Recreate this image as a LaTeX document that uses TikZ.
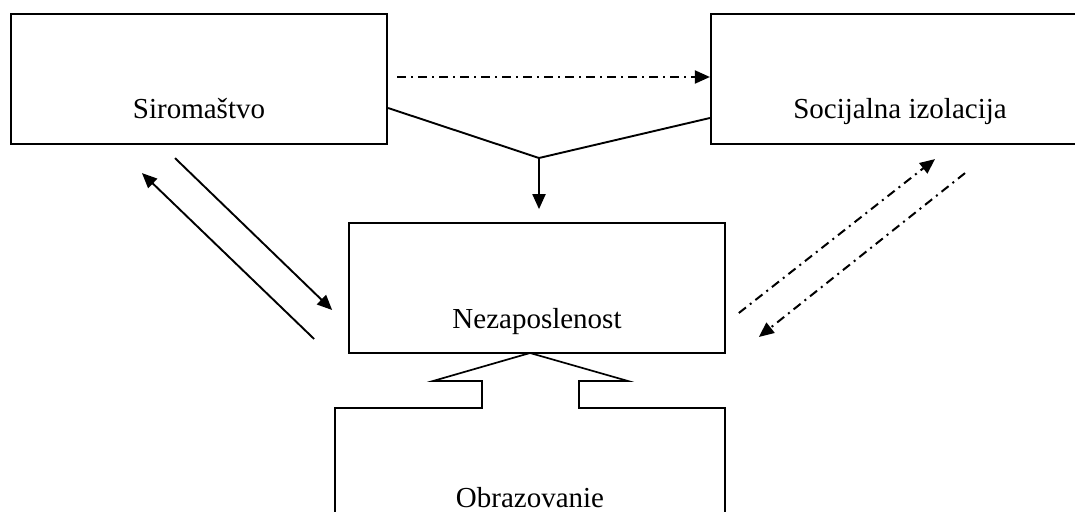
\documentclass[tikz,border=0pt]{standalone}
\usepackage{fontspec}
\setmainfont{Liberation Serif}
\usetikzlibrary{arrows.meta}
\tikzset{
  topbox/.style={draw, line width=2.2pt, minimum width=376pt, minimum height=130pt, inner sep=0pt},
  midbox/.style={draw, line width=1.7pt, minimum width=376pt, minimum height=130pt, inner sep=0pt},
  lbl/.style={anchor=base, inner sep=0pt, font=\fontsize{29}{34}\selectfont},
  conn/.style={line width=1.9pt, -{Triangle[length=15pt,width=13pt]}},
  plain/.style={line width=1.9pt},
  dd/.style={line width=2pt, dash pattern=on 9pt off 5pt on 2pt off 5pt, -{Triangle[length=15pt,width=13pt]}}
}
\begin{document}
\begin{tikzpicture}[x=1pt,y=-1pt]
\useasboundingbox (0,0) rectangle (1075,511);
\clip (0,0) rectangle (1075,511);
\node[topbox] (sir) at (199,79) {};
\node[topbox, minimum width=378pt] (soc) at (900,79) {};
\node[midbox] (nez) at (537,288) {};
\node[lbl] (sirt) at (199,118) {Siromaštvo};
\node[lbl] (soct) at (900,118) {Socijalna izolacija};
\node[lbl] (nezt) at (537,328) {Nezaposlenost};
\draw[line width=1.7pt, line join=miter] (335,540) -- (335,408) -- (482,408) -- (482,381) -- (433,381) -- (530,353) -- (628,381) -- (579,381) -- (579,408) -- (725,408) -- (725,540);
\node[lbl] (obr) at (530,507) {Obrazovanie};
% top dash-dot arrow
\draw[dd] ([shift={(9,-2)}]sir.east) -- ([shift={(0,-2)}]soc.west);
% V connector
\coordinate (v) at (539,158);
\draw[plain] ([shift={(0,29)}]sir.east) -- (v) -- ([shift={(0,39)}]soc.west);
\draw[conn] (v) -- ([shift={(2,-13)}]nez.north);
% left arrows
\draw[conn] ([shift={(-24,13)}]sir.south) -- ([shift={(-16,22)}]nez.west);
\draw[conn] ([shift={(-34,51)}]nez.west) -- ([shift={(-57,28)}]sir.south);
% right arrows
\draw[dd] ([shift={(13,25)}]nez.east) -- ([shift={(35,14)}]soc.south);
\draw[dd] ([shift={(65,28)}]soc.south) -- ([shift={(33,49)}]nez.east);
\end{tikzpicture}
\end{document}
